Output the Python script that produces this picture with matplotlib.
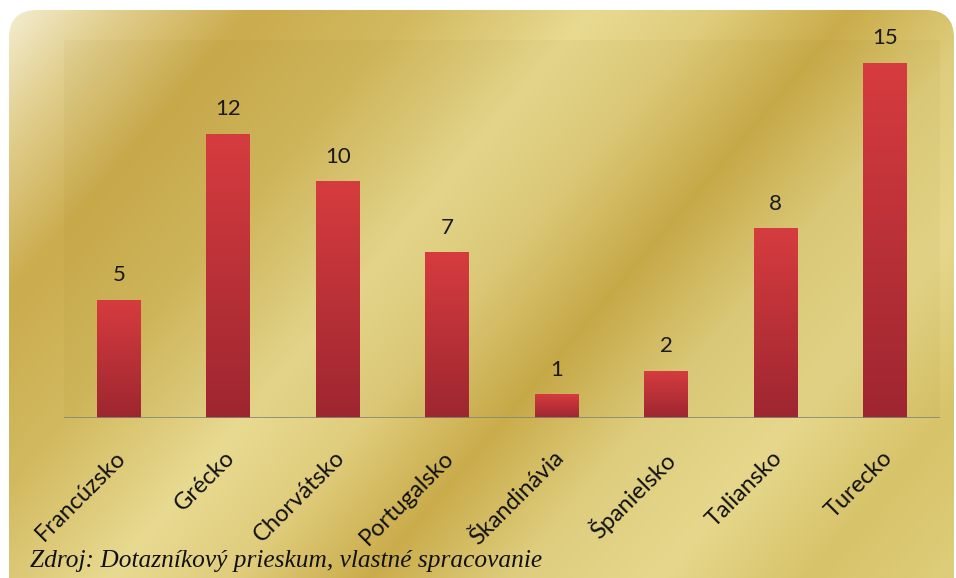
import numpy as np
import matplotlib
matplotlib.use('Agg')
import matplotlib.pyplot as plt
import matplotlib.transforms as mtransforms
from matplotlib.patches import FancyBboxPatch, Rectangle
from matplotlib.colors import LinearSegmentedColormap

# počet respondentov podľa krajiny
krajiny = ['Francúzsko', 'Grécko', 'Chorvátsko', 'Portugalsko',
           'Škandinávia', 'Španielsko', 'Taliansko', 'Turecko']
hodnoty = [5, 12, 10, 7, 1, 2, 8, 15]
zdroj = 'Zdroj: Dotazníkový prieskum, vlastné spracovanie'

W, H = 956, 578
fig = plt.figure(figsize=(W / 100, H / 100), dpi=100)
fig.patch.set_facecolor('white')

# zlaté pozadie s diagonálnymi prechodmi
bg = fig.add_axes([0, 0, 1, 1])
bg.set_xlim(0, W)
bg.set_ylim(H, 0)
bg.axis('off')
yy, xx = np.mgrid[0:H, 0:W]
t = xx + 0.85 * yy
stops_t = [0, 120, 260, 420, 600, 720, 860, 1000, 1150, 1300, 1500]
stops_c = np.array([
    (247, 242, 220), (226, 208, 145), (203, 172, 78), (210, 185, 95),
    (232, 218, 145), (224, 205, 125), (202, 172, 75), (222, 205, 125),
    (230, 215, 140), (215, 195, 105), (225, 210, 130)]) / 255.0
img = np.zeros((H, W, 3))
for k in range(3):
    img[..., k] = np.interp(t, stops_t, stops_c[:, k])
ram = FancyBboxPatch((9, 10), W - 11, H + 20,
                     boxstyle='round,pad=0,rounding_size=28',
                     transform=bg.transData, facecolor='none', edgecolor='none')
bg.add_patch(ram)
im = bg.imshow(img, extent=(0, W, H, 0), aspect='auto')
im.set_clip_path(ram)

# graf
ax = fig.add_axes([64 / W, 160 / H, 876 / W, 378 / H])
ax.set_facecolor('none')
ax.add_patch(Rectangle((0, 0), 1, 1, transform=ax.transAxes,
                       facecolor=(0.55, 0.45, 0.05), alpha=0.05, zorder=0))
x = np.arange(len(krajiny))
bars = ax.bar(x, hodnoty, width=0.4, color='#c8333a', zorder=2)

cmap = LinearSegmentedColormap.from_list('cervena', ['#9e2630', '#d63c3f'])
grad = np.linspace(0, 1, 100).reshape(-1, 1)
for b in bars:
    g = ax.imshow(grad, cmap=cmap, origin='lower', aspect='auto', zorder=3,
                  extent=(b.get_x(), b.get_x() + b.get_width(), 0, b.get_height()))
    g.set_clip_path(b)

for xi, v in zip(x, hodnoty):
    ax.text(xi, v + 0.78, str(v), ha='center', va='baseline', fontsize=16,
            family='Lato', color='#1a1a1a')

ax.set_xlim(-0.5, len(krajiny) - 0.5)
ax.set_ylim(0, 15.95)
ax.axhline(0, color='#7f8a7a', lw=1.2, zorder=4)
for s in ax.spines.values():
    s.set_visible(False)
ax.set_yticks([])
ax.set_xticks(x)
ax.set_xticklabels(krajiny, rotation=45, ha='right', va='top',
                   rotation_mode='anchor', fontsize=17, family='Lato',
                   color='#111111')
ax.tick_params(axis='x', length=0, pad=21)
posun = mtransforms.ScaledTranslation(-4 / 100, 0, fig.dpi_scale_trans)
for lbl in ax.get_xticklabels():
    lbl.set_transform(lbl.get_transform() + posun)

fig.text(30 / W, 1 - 567 / H, zdroj, fontsize=18.3, style='italic',
         family='Liberation Serif', color='#111111')

fig.savefig('out.png', dpi=100)
